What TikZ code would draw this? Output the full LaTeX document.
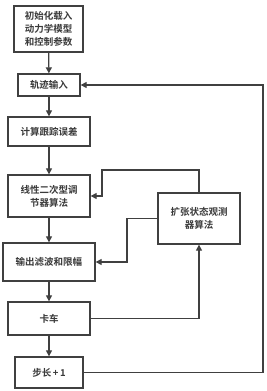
\documentclass[tikz,border=0pt]{standalone}
\usepackage{fontspec}
\newfontfamily\cjk{Noto Sans CJK SC}[BoldFont={Noto Sans CJK SC Bold}]
\usetikzlibrary{arrows.meta}
\definecolor{ln}{HTML}{404040}
\definecolor{tx}{HTML}{3a3a3a}
\tikzset{
  blk/.style={draw=ln,line width=1.3pt,fill=white,inner sep=0pt,align=center,
    font=\cjk\bfseries\fontsize{9.5}{13}\selectfont,text=tx},
  conn/.style={draw=ln,line width=1.2pt,-{Triangle[length=6pt,width=6pt]}},
  plain/.style={draw=ln,line width=1.2pt}
}
\begin{document}
\begin{tikzpicture}[x=1pt,y=-1pt]
\useasboundingbox (0,0) rectangle (267,391);
\node[blk,minimum width=69pt,minimum height=46pt] (b1) at (48.5,29) {初始化载入\\动力学模型\\和控制参数};
\node[blk,minimum width=62pt,minimum height=22pt] (b2) at (49,85) {轨迹输入};
\node[blk,minimum width=82pt,minimum height=29pt] (b3) at (49,131.5) {计算跟踪误差};
\node[blk,minimum width=82pt,minimum height=42pt] (b4) at (49,196) {线性二次型调\\节器算法};
\node[blk,minimum width=82pt,minimum height=51pt] (b5) at (199,218.5) {扩张状态观测\\器算法};
\node[blk,minimum width=92pt,minimum height=38pt] (b6) at (49,262) {输出滤波和限幅};
\node[blk,minimum width=82pt,minimum height=33pt] (b7) at (49,318.5) {卡车};
\node[blk,minimum width=68pt,minimum height=31pt] (b8) at (49,372.5) {步长\,+\,1};
\coordinate (r1) at (263,372.5);
\coordinate (r2) at (263,85);
\coordinate (u1) at (102,196);
\coordinate (u2) at (102,170);
\coordinate (u3) at (199,170);
\coordinate (l1) at (127,218.5);
\coordinate (l2) at (127,262);
\draw[conn] (b1) -- (b2);
\draw[conn] (b2) -- (b3);
\draw[conn] (b3) -- (b4);
\draw[conn] (b4) -- (b6);
\draw[conn] (b6) -- (b7);
\draw[conn] (b7) -- (b8);
\draw[conn] (b8.east) -- (r1) -- (r2) -- (b2.east);
\draw[conn] (b5.north) -- (u3) -- (u2) -- (u1) -- (b4.east);
\draw[conn] (b5.west) -- (l1) -- (l2) -- (b6.east);
\draw[conn] (b7.east) -- (b5.south |- b7.east) -- (b5.south);
\end{tikzpicture}
\end{document}
